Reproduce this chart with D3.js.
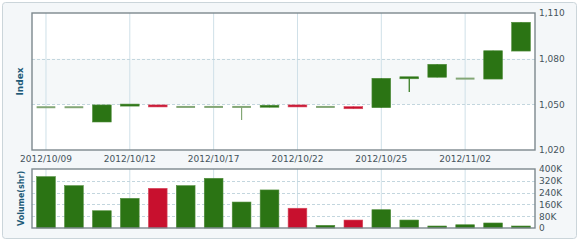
<!DOCTYPE html>
<html>
<head>
<meta charset="utf-8">
<script src="https://cdnjs.cloudflare.com/ajax/libs/d3/7.8.5/d3.min.js"></script>
<style>
    body { margin: 0; background: #ffffff; }
    #chart { width: 580px; height: 242px; }
    text { font-family: "DejaVu Sans", Verdana, sans-serif; }
</style>
</head>
<body>
<div id="chart"></div>
<script>
var dates = ["2012/10/09", "2012/10/10", "2012/10/11", "2012/10/12", "2012/10/15", "2012/10/16",
    "2012/10/17", "2012/10/18", "2012/10/19", "2012/10/22", "2012/10/23", "2012/10/24",
    "2012/10/25", "2012/10/26", "2012/11/01", "2012/11/02", "2012/11/05", "2012/11/06"];
var open_v = [1048.1, 1048.1, 1038.4, 1049.4, 1049.6, 1048.3, 1048.3, 1048.3, 1048.1, 1049.6, 1048.3, 1048.5, 1047.8, 1067.3, 1067.8, 1066.9, 1066.6, 1085.0];
var close_v = [1048.1, 1048.1, 1049.6, 1049.6, 1048.3, 1048.3, 1048.3, 1048.3, 1049.4, 1048.3, 1048.3, 1047.1, 1067.1, 1067.6, 1076.3, 1066.9, 1085.2, 1103.9];
var high_v = [1048.1, 1048.1, 1049.6, 1049.6, 1049.6, 1048.3, 1048.3, 1048.3, 1049.4, 1049.6, 1048.3, 1048.5, 1067.1, 1067.6, 1076.3, 1066.9, 1085.2, 1103.9];
var low_v = [1048.1, 1048.1, 1038.4, 1049.4, 1048.3, 1048.3, 1048.3, 1039.7, 1048.1, 1048.3, 1048.3, 1047.1, 1047.8, 1058.1, 1067.8, 1066.9, 1066.6, 1085.0];
var volume = [348000, 287000, 117000, 201000, 269000, 287000, 337000, 176000, 258000, 134000, 18000, 54000, 124000, 54000, 5000, 22000, 34000, 5000];

var price_ticks = [1020, 1050, 1080, 1110];
var volume_ticks = [0, 80000, 160000, 240000, 320000, 400000];
var date_ticks = ["2012/10/09", "2012/10/12", "2012/10/17", "2012/10/22", "2012/10/25", "2012/11/02"];

function draw_chart() {
    const W = 580, H = 242;
    const LEFT = 32, RIGHT = 535;
    const P_TOP = 13, P_BOT = 150;
    const V_TOP = 169, V_BOT = 228;

    const GREEN = "#2b7414";
    const RED = "#c8102e";
    const FLAT = "#83a776";
    const GRID = "#c3d6de";
    const TXT = "#45545c";

    var rows = dates.map(function (d, i) {
        return { date: d, o: open_v[i], c: close_v[i], h: high_v[i], l: low_v[i], v: volume[i] };
    });

    var svg = d3.select("#chart").append("svg")
        .attr("width", W)
        .attr("height", H);

    svg.append("rect")
        .attr("x", 2.5).attr("y", 2.5)
        .attr("width", 574).attr("height", 236)
        .attr("rx", 3)
        .attr("fill", "#f4f7f9")
        .attr("stroke", "#cbd5da");

    var x = d3.scaleBand()
        .domain(dates)
        .range([LEFT, RIGHT])
        .paddingInner(0.33)
        .paddingOuter(0.165);

    var y = d3.scaleLinear().domain([1020, 1110]).range([P_BOT, P_TOP]);
    var yv = d3.scaleLinear().domain([0, 400000]).range([V_BOT, V_TOP]);

    function cx(d) { return x(d) + x.bandwidth() / 2; }

    // plot backgrounds
    svg.append("rect")
        .attr("x", LEFT).attr("y", P_TOP)
        .attr("width", RIGHT - LEFT).attr("height", P_BOT - P_TOP)
        .attr("fill", "#ffffff");
    svg.append("rect")
        .attr("x", LEFT).attr("y", y(1080))
        .attr("width", RIGHT - LEFT).attr("height", y(1050) - y(1080))
        .attr("fill", "#f5f8f9");
    svg.append("rect")
        .attr("x", LEFT).attr("y", V_TOP)
        .attr("width", RIGHT - LEFT).attr("height", V_BOT - V_TOP)
        .attr("fill", "#ffffff");

    // vertical grid lines at labelled dates
    var vgrid = svg.append("g");
    date_ticks.forEach(function (d) {
        vgrid.append("line")
            .attr("x1", cx(d)).attr("x2", cx(d))
            .attr("y1", P_TOP).attr("y2", P_BOT)
            .attr("stroke", "#cfe0e8");
        vgrid.append("line")
            .attr("x1", cx(d)).attr("x2", cx(d))
            .attr("y1", V_TOP).attr("y2", V_BOT)
            .attr("stroke", "#cfe0e8");
    });

    // horizontal dashed grid
    svg.append("g").selectAll("line")
        .data(price_ticks.slice(1, -1))
        .enter().append("line")
        .attr("x1", LEFT).attr("x2", RIGHT)
        .attr("y1", function (d) { return Math.round(y(d)) + 0.5; })
        .attr("y2", function (d) { return Math.round(y(d)) + 0.5; })
        .attr("stroke", GRID)
        .attr("stroke-dasharray", "3,2");

    svg.append("g").selectAll("line")
        .data(volume_ticks.slice(1, -1))
        .enter().append("line")
        .attr("x1", LEFT).attr("x2", RIGHT)
        .attr("y1", function (d) { return Math.round(yv(d)) + 0.5; })
        .attr("y2", function (d) { return Math.round(yv(d)) + 0.5; })
        .attr("stroke", GRID)
        .attr("stroke-dasharray", "3,2");

    // candles
    var candles = svg.append("g");

    candles.selectAll("line.wick")
        .data(rows)
        .enter().append("line")
        .attr("class", "wick")
        .attr("x1", function (d) { return cx(d.date); })
        .attr("x2", function (d) { return cx(d.date); })
        .attr("y1", function (d) { return y(d.h); })
        .attr("y2", function (d) { return y(d.l); })
        .attr("stroke", function (d) { return d.c > d.o ? GREEN : (d.c < d.o ? RED : FLAT); })
        .attr("stroke-width", 1.2);

    candles.selectAll("rect.body")
        .data(rows)
        .enter().append("rect")
        .attr("class", "body")
        .attr("x", function (d) { return x(d.date); })
        .attr("width", x.bandwidth())
        .attr("y", function (d) {
            var top = y(Math.max(d.o, d.c));
            var h = Math.abs(y(d.o) - y(d.c));
            return h < 2 ? (top + h / 2 - 1) : top;
        })
        .attr("height", function (d) { return Math.max(2, Math.abs(y(d.o) - y(d.c))); })
        .attr("fill", function (d) { return d.c > d.o ? GREEN : (d.c < d.o ? RED : FLAT); })
        .attr("stroke", function (d) {
            if (d.c === d.o) return "none";
            return d.c > d.o ? "#4f8c3a" : "#d84b5f";
        })
        .attr("stroke-width", 0.6);

    // volume bars
    svg.append("g").selectAll("rect")
        .data(rows)
        .enter().append("rect")
        .attr("x", function (d) { return x(d.date); })
        .attr("width", x.bandwidth())
        .attr("y", function (d) { return Math.min(yv(d.v), V_BOT - 2); })
        .attr("height", function (d) { return Math.max(2, V_BOT - yv(d.v)); })
        .attr("fill", function (d) { return d.c < d.o ? RED : GREEN; })
        .attr("stroke", function (d) { return d.c < d.o ? "#d84b5f" : "#4f8c3a"; })
        .attr("stroke-width", 0.6);

    // frames
    svg.append("rect")
        .attr("x", LEFT).attr("y", P_TOP)
        .attr("width", RIGHT - LEFT).attr("height", P_BOT - P_TOP)
        .attr("fill", "none")
        .attr("stroke", "#7d888e")
        .attr("stroke-width", 1.4);
    svg.append("rect")
        .attr("x", LEFT).attr("y", V_TOP)
        .attr("width", RIGHT - LEFT).attr("height", V_BOT - V_TOP)
        .attr("fill", "none")
        .attr("stroke", "#7d888e")
        .attr("stroke-width", 1.4);

    // right axes
    var fmt = d3.format(",");
    var yAxis = d3.axisRight(y).tickValues(price_ticks).tickFormat(fmt).tickSize(0).tickPadding(4);
    var ga = svg.append("g").attr("transform", "translate(" + RIGHT + ",0)").call(yAxis);
    ga.select(".domain").remove();
    ga.selectAll("text").attr("fill", TXT).style("font-size", "9px").style("font-family", "DejaVu Sans");

    var yvAxis = d3.axisRight(yv).tickValues(volume_ticks)
        .tickFormat(function (d) { return d === 0 ? "0" : (d / 1000) + "K"; })
        .tickSize(0).tickPadding(4);
    var gv = svg.append("g").attr("transform", "translate(" + RIGHT + ",0)").call(yvAxis);
    gv.select(".domain").remove();
    gv.selectAll("text").attr("fill", TXT).style("font-size", "9px").style("font-family", "DejaVu Sans");

    // date labels
    var xAxis = d3.axisBottom(x).tickValues(date_ticks).tickSize(0).tickPadding(0);
    var gx = svg.append("g").attr("transform", "translate(0," + (P_BOT + 6) + ")").call(xAxis);
    gx.select(".domain").remove();
    gx.selectAll("text").attr("fill", TXT).style("font-size", "9px").style("font-family", "DejaVu Sans");

    // axis titles
    svg.append("text")
        .attr("transform", "translate(23," + ((P_TOP + P_BOT) / 2) + ") rotate(-90)")
        .attr("text-anchor", "middle")
        .attr("fill", "#1f5b78")
        .style("font-size", "9px")
        .style("font-weight", "bold")
        .text("Index");
    svg.append("text")
        .attr("transform", "translate(24," + ((V_TOP + V_BOT) / 2) + ") rotate(-90)")
        .attr("text-anchor", "middle")
        .attr("fill", "#1f5b78")
        .style("font-size", "8px")
        .style("font-weight", "bold")
        .text("Volume(shr)");
}

draw_chart();
</script>
</body>
</html>
